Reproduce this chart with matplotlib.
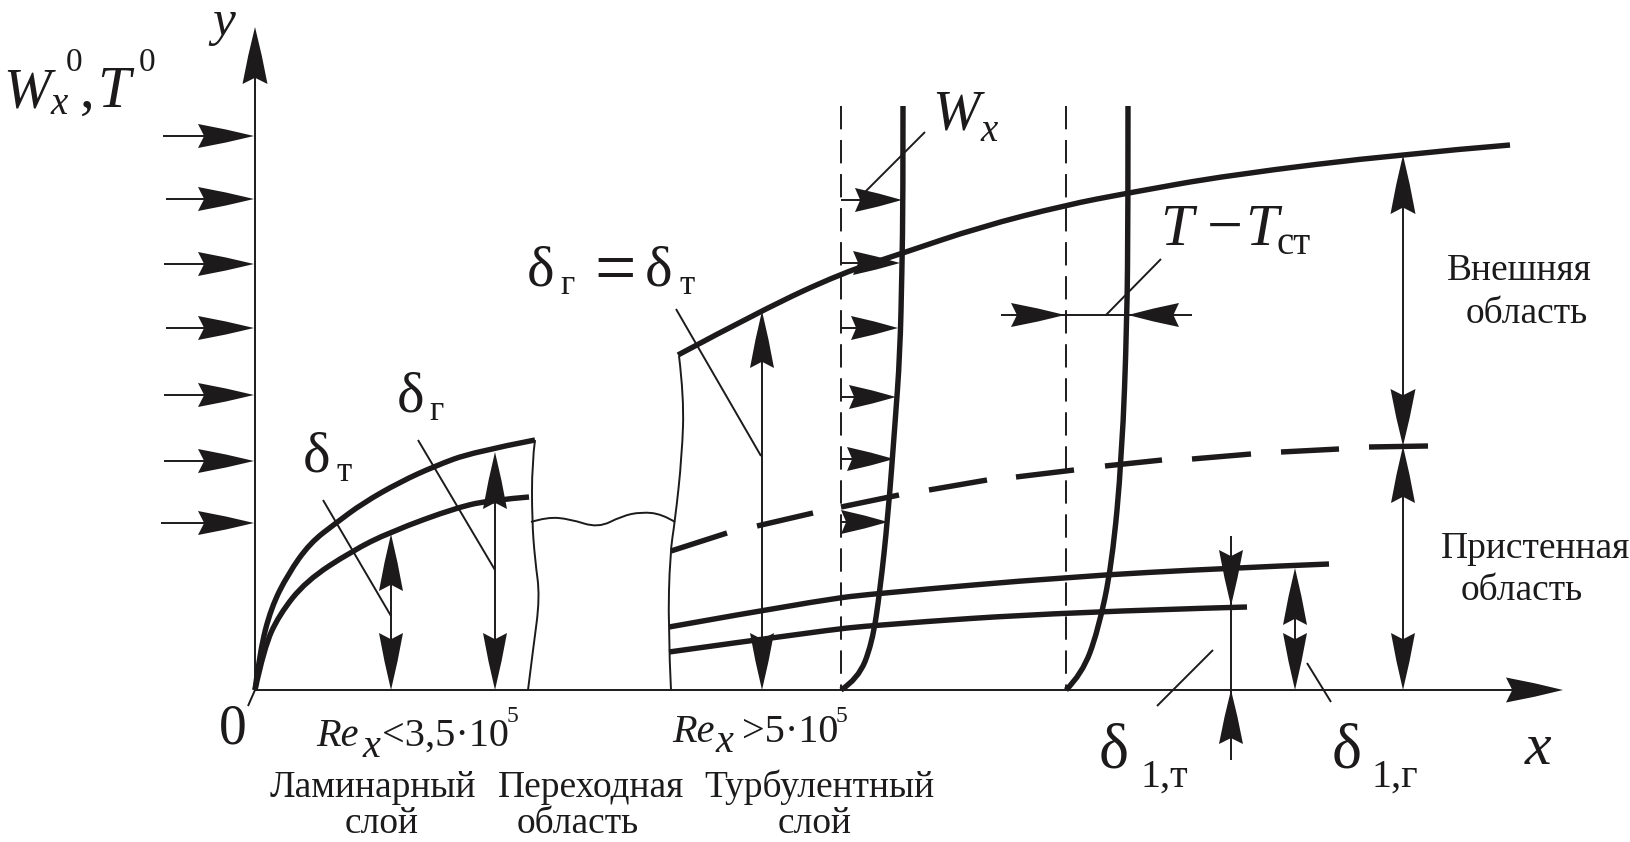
import matplotlib
matplotlib.use("Agg")
import matplotlib.pyplot as plt
from matplotlib.path import Path
from matplotlib.patches import PathPatch, Polygon

INK = "#1c1a1b"
THIN = 1.4
THICK = 3.9
SERIF = "Liberation Serif"

# Curves, (x, y) in image pixels
lam_outer = [(255,690),(260,651),(271,608),(288,574),(310,543),(336,523),(363,503),(400,482),(435,466),(473,452),(535,440)]
lam_inner = [(255,690),(264,648),(279,615),(306,581),(352,551),(390,532),(458,507),(493,500),(529,497)]
trans_left = [(535,440),(532,463),(532,520),(535,560),(540,597),(533,650),(528,690)]
trans_wave = [(531,522),(547,517),(570,519),(598,528),(622,516),(641,512),(662,514),(675,522)]
trans_right = [(679,356),(684,397),(682,456),(675,521),(670,553),(668,628),(671,690)]
turb_outer = [(678,355),(762,310),(842,273),(903,253),(980,227),(1066,205),(1128,193),(1229,175),(1402,154),(1510,145)]
sub_outer = [(669,627),(820,600),(881,593),(1066,577),(1229,568),(1329,564)]
sub_inner = [(669,652),(820,631),(875,625),(1066,612),(1247,607)]
profile_w = [(903,106),(903,200),(902,268),(900,354),(895,424),(888,516),(880,591),(872,644),(858,679),(841,690)]
profile_t = [(1128,106),(1128,215),(1127,322),(1122,456),(1112,564),(1098,631),(1082,674),(1066,690)]
split_dashes = [((671,551),(727,533)),((757,526),(813,513)),((841,507),(899,495)),((929,490),(987,480)),
                ((1016,477),(1074,470)),((1105,466),(1162,460)),((1192,459),(1251,454)),((1281,452),(1339,449)),((1369,447),(1428,446))]

# Straight thin leader lines
leaders = [((323,500),(391,616)),((418,440),(495,570)),((676,309),(761,456)),((925,132),(865,192)),
           ((1161,259),(1106,315)),((1213,650),(1157,706)),((1307,663),(1331,702))]

# Free-stream arrows: y, tail x
inlet_y = [136,199,264,328,395,461,523]
inlet_tail = [163,166,164,166,164,164,161]
# Profile arrows: y, tip x
prof_y = [200,263,328,397,459,522]
prof_tip = [902,900,898,896,894,888]

# Double-headed measure arrows: x, upper tip y, lower tip y
measures = [(391,534,690),(495,452,690),(762,311,690),(1403,446,690),(1295,568,690)]

fig = plt.figure(figsize=(16.31,8.42),dpi=100)
ax = fig.add_axes([0,0,1,1])
ax.set_xlim(0,1631); ax.set_ylim(842,0); ax.axis("off")

def curve(pts,lw):
    verts=[pts[0]]; codes=[Path.MOVETO]
    for i in range(1,len(pts)-1):
        a=pts[i]; b=pts[i+1]
        end=b if i==len(pts)-2 else ((a[0]+b[0])/2,(a[1]+b[1])/2)
        verts+= [a,end]; codes+=[Path.CURVE3,Path.CURVE3]
    ax.add_patch(PathPatch(Path(verts,codes),fc="none",ec=INK,lw=lw,capstyle="butt",joinstyle="round"))

def seg(a,b,lw=THIN,**k):
    ax.plot([a[0],b[0]],[a[1],b[1]],color=INK,lw=lw,solid_capstyle="butt",**k)

def head(tip,dx,dy,L=57,W=25):
    bx,by=tip[0]-dx*L,tip[1]-dy*L
    nx,ny=-dy,dx
    mx,my=tip[0]-dx*L*0.89,tip[1]-dy*L*0.89
    q1x,q1y=tip[0]-dx*L*0.5+nx*W*0.27,tip[1]-dy*L*0.5+ny*W*0.27
    q2x,q2y=tip[0]-dx*L*0.5-nx*W*0.27,tip[1]-dy*L*0.5-ny*W*0.27
    ax.add_patch(Polygon([tip,(q1x,q1y),(bx+nx*W/2,by+ny*W/2),(mx,my),(bx-nx*W/2,by-ny*W/2),(q2x,q2y)],
                         closed=True,fc=INK,ec="none",zorder=3))

# axes
seg((255,690),(255,60)); head((255,27),0,-1,57,25)
seg((248,706),(255,690))
seg((255,690),(1530,690)); head((1563,690),1,0,57,25)

for c in (lam_outer,lam_inner,turb_outer,sub_outer,sub_inner,profile_w,profile_t):
    curve(c,THICK)
for c in (trans_left,trans_wave,trans_right):
    curve(c,THIN)
for a,b in split_dashes:
    seg(a,b,THICK)
for a,b in leaders:
    seg(a,b)
for x in (841,1066):
    ax.plot([x,x],[106,690],color=INK,lw=THIN,dashes=(12,5.5))

for y,t_ in zip(inlet_y,inlet_tail):
    seg((t_,y),(250,y)); head((254,y),1,0,56,24)
for y,t_ in zip(prof_y,prof_tip):
    seg((841,y),(t_-6,y)); head((t_,y),1,0,47,24)
for x,top,bot in measures:
    seg((x,top+5),(x,bot-5))
    head((x,top),0,-1,57,24); head((x,bot),0,1,57,24)
# top outer-region arrow pair
seg((1403,160),(1403,440)); head((1403,155),0,-1,59,25); head((1403,446),0,1,57,25)
# delta 1,t
seg((1231,536),(1231,760)); head((1231,606),0,1,56,24); head((1231,690),0,-1,54,24)
# T - Tw arrows
seg((1001,315),(1192,315)); head((1065,315),1,0,54,24); head((1128,315),-1,0,51,24)

def t(x,y,s,size,style="normal",ha="left"):
    ax.text(x,y,s,fontsize=size,family=SERIF,style=style,color=INK,ha=ha,va="baseline")

t(212,35,"y",37,"italic")
t(3,107,"W",41,"italic"); t(50,114,"x",28,"italic"); t(66,71,"0",24)
t(80,107,",",42.5); t(97,107,"T",42.5,"italic"); t(139,71,"0",24)
t(219,744,"0",40)
t(303,472,"δ",42); t(336,481,"т",25)
t(397,411,"δ",42); t(429,420,"г",25)
t(527,285,"δ",42); t(560,294,"г",25); t(594,292,"=",53); t(645,285,"δ",42); t(679,294,"т",25)
t(316,746,"Re",29,"italic"); t(363,757,"x",29,"italic"); t(382,746,"<3,5·10",29); t(507,722,"5",17)
t(672,742,"Re",29,"italic"); t(716,752,"x",29,"italic"); t(742,742,">5·10",29); t(836,722,"5",17)
for x,y,s in [(373,797,"Ламинарный"),(382,833,"слой"),(591,797,"Переходная"),(578,833,"область"),
              (819,797,"Турбулентный"),(815,833,"слой"),(1519,280,"Внешняя"),(1527,323,"область"),
              (1536,558,"Пристенная"),(1522,600,"область")]:
    t(x,y,s,27,ha="center")
t(932,129,"W",41,"italic"); t(980,141,"x",28,"italic")
t(1160,245,"T",42.5,"italic"); t(1207,246,"−",46); t(1245,245,"T",42.5,"italic"); t(1277,254,"ст",28)
t(1099,768,"δ",46); t(1141,787,"1,т",29)
t(1332,768,"δ",46); t(1372,787,"1,г",29)
t(1525,764,"x",43,"italic")

fig.savefig("out.png",dpi=100,facecolor="white")
